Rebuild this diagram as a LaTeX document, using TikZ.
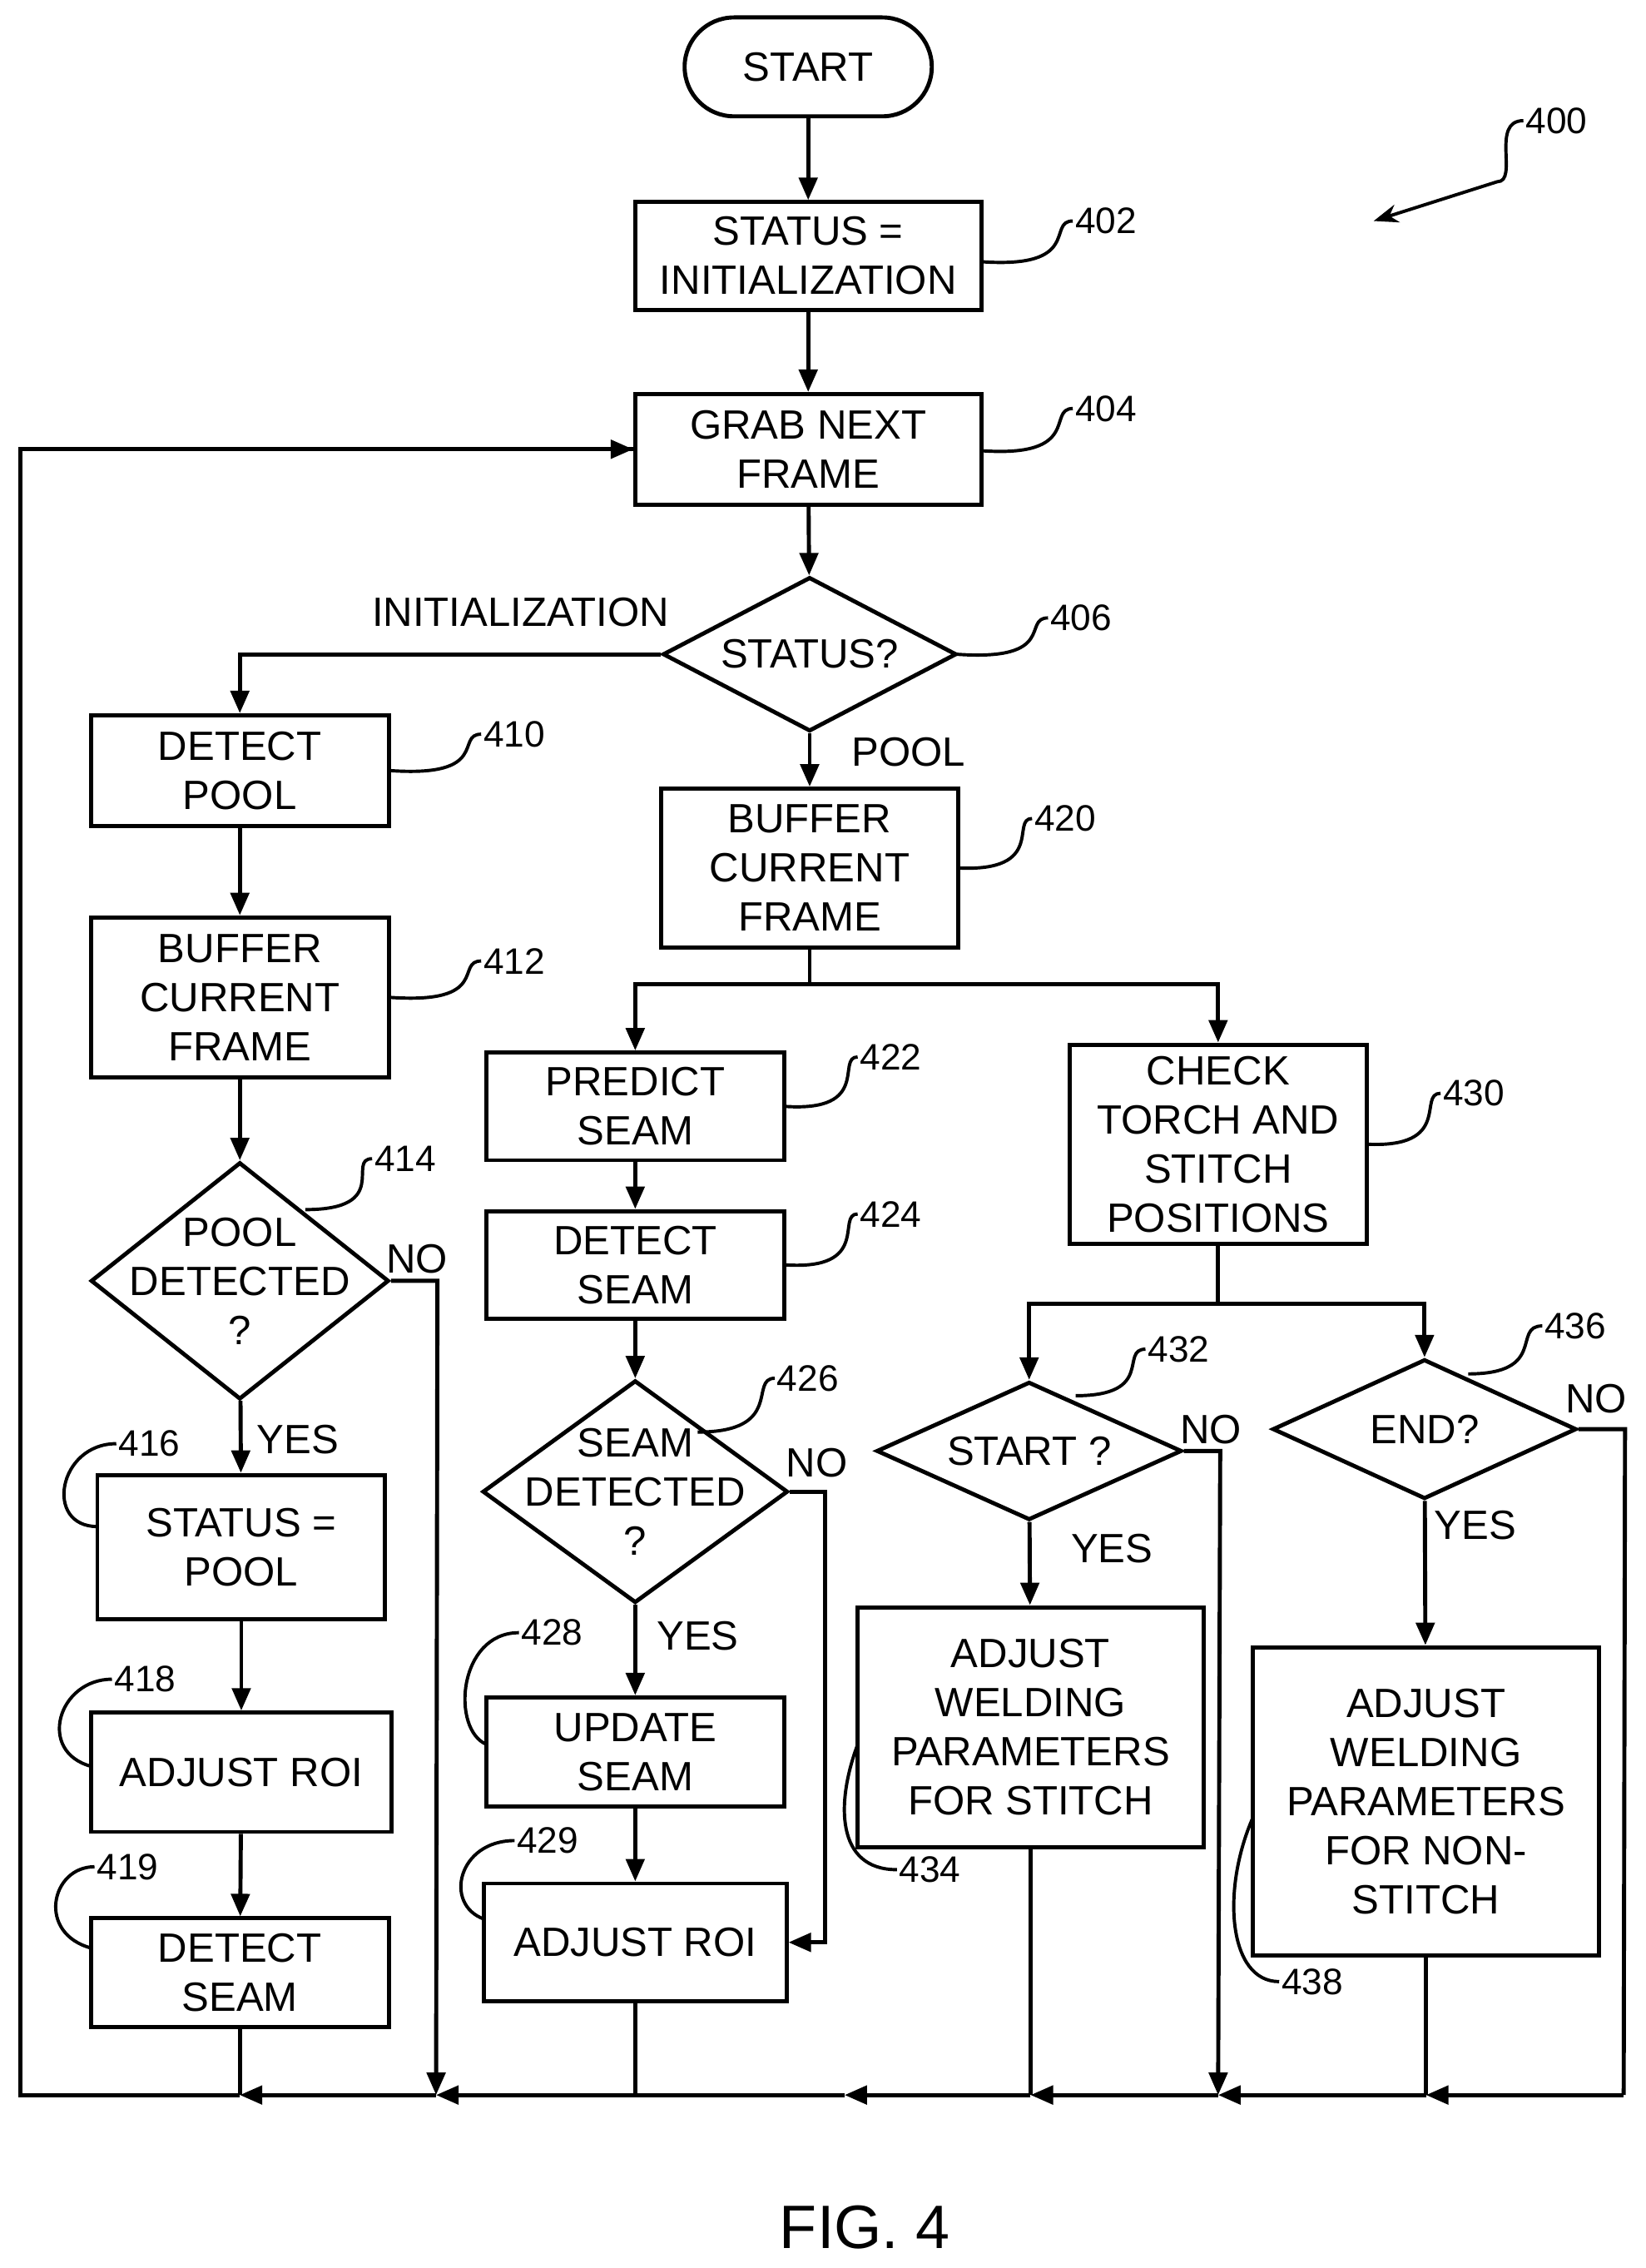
\documentclass[tikz,border=0pt]{standalone}
\usepackage{fontspec}
\setmainfont{Liberation Sans}
\usetikzlibrary{shapes.geometric,arrows.meta}
\tikzset{
  box/.style={draw, line width=2pt, align=center, inner sep=0pt, font=\fontsize{20}{24}\selectfont},
  dia/.style={draw, diamond, line width=2pt, inner sep=0pt},
  flow/.style={line width=2pt, -{Triangle[length=11pt,width=9pt]}},
  line/.style={line width=2pt},
  lead/.style={line width=1.6pt},
  num/.style={font=\fontsize{18}{20}\selectfont, anchor=west, inner sep=1pt},
  lbl/.style={font=\fontsize{20}{24}\selectfont, align=center}
}
\begin{document}
\begin{tikzpicture}[x=0.025cm, y=0.025cm]
\useasboundingbox (0,0) rectangle (1132,-1560);

% boxes
\node[box, rounded corners=0.85cm, minimum width=4.25cm, minimum height=1.7cm] (start) at (556,-46) {START};
\node[box, minimum width=5.95cm, minimum height=1.85cm] (s402) at (556,-176) {STATUS =\\INITIALIZATION};
\node[box, minimum width=5.95cm, minimum height=1.9cm] (s404) at (556,-309) {GRAB NEXT\\FRAME};
\node[dia, minimum width=5.05cm, minimum height=2.65cm] (d406) at (557,-450) {};
\node[lbl] (t406) at (d406) {STATUS?};
\node[box, minimum width=5.125cm, minimum height=1.9cm] (b410) at (165,-530) {DETECT\\POOL};
\node[box, minimum width=5.125cm, minimum height=2.75cm] (b412) at (165,-686) {BUFFER\\CURRENT\\FRAME};
\node[dia, minimum width=5.125cm, minimum height=4.075cm] (d414) at (165,-881) {};
\node[lbl] (t414) at (d414) {POOL\\DETECTED\\?};
\node[box, minimum width=4.95cm, minimum height=2.475cm] (b416) at (166,-1064) {STATUS =\\POOL};
\node[box, minimum width=5.175cm, minimum height=2.05cm] (b418) at (166,-1219) {ADJUST ROI};
\node[box, minimum width=5.125cm, minimum height=1.875cm] (b419) at (165,-1357) {DETECT\\SEAM};
\node[box, minimum width=5.1cm, minimum height=2.725cm] (b420) at (557,-597) {BUFFER\\CURRENT\\FRAME};
\node[box, minimum width=5.125cm, minimum height=1.85cm] (b422) at (437,-761) {PREDICT\\SEAM};
\node[box, minimum width=5.125cm, minimum height=1.85cm] (b424) at (437,-870) {DETECT\\SEAM};
\node[dia, minimum width=5.25cm, minimum height=3.825cm] (d426) at (437,-1026) {};
\node[lbl] (t426) at (d426) {SEAM\\DETECTED\\?};
\node[box, minimum width=5.125cm, minimum height=1.875cm] (b428) at (437,-1205) {UPDATE\\SEAM};
\node[box, minimum width=5.2cm, minimum height=2.025cm] (b429) at (437,-1336) {ADJUST ROI};
\node[box, minimum width=5.1cm, minimum height=3.425cm] (b430) at (838,-787) {CHECK\\TORCH AND\\STITCH\\POSITIONS};
\node[dia, minimum width=5.25cm, minimum height=2.375cm] (d432) at (708,-998) {};
\node[lbl] (t432) at (d432) {START ?};
\node[box, minimum width=5.95cm, minimum height=4.125cm] (b434) at (709,-1188) {ADJUST\\WELDING\\PARAMETERS\\FOR STITCH};
\node[dia, minimum width=5.225cm, minimum height=2.4cm] (d436) at (980,-983) {};
\node[lbl] (t436) at (d436) {END?};
\node[box, minimum width=5.95cm, minimum height=5.3cm] (b438) at (981,-1239) {ADJUST\\WELDING\\PARAMETERS\\FOR NON-\\STITCH};

% junction points
\coordinate (bl) at (14,-1441);
\coordinate (br) at (1117,-1441);
\coordinate (j420) at (557,-677);
\coordinate (j430) at (838,-897);

% main flow
\draw[flow] (start) -- (s402);
\draw[flow] (s402) -- (s404);
\draw[flow] (s404) -- (d406);
\draw[flow] (d406.west) -| (b410.north);
\draw[flow] (d406) -- (b420);
\draw[flow] (b410) -- (b412);
\draw[flow] (b412) -- (d414);
\draw[flow] (d414) -- (b416);
\draw[flow] (b416) -- (b418);
\draw[flow] (b418) -- (b419);
\draw[line] (b420) -- (j420);
\draw[flow] (j420) -| (b422.north);
\draw[flow] (j420) -| (b430.north);
\draw[flow] (b422) -- (b424);
\draw[flow] (b424) -- (d426);
\draw[flow] (d426) -- (b428);
\draw[flow] (b428) -- (b429);
\draw[flow] (d426.east) -- ++(24,0) |- (b429.east);
\draw[line] (b430) -- (j430);
\draw[flow] (j430) -| (d432.north);
\draw[flow] (j430) -| (d436.north);
\draw[flow] (d432) -- (b434);
\draw[flow] (d436) -- (b438);

% return paths
\draw[flow] (d414.east) -- ++(32,0) -- (300,-1441);
\draw[flow] (d432.east) -- ++(25,0) -- (838,-1441);
\draw[line] (d436.east) -- ++(32,0) -- (br);
\draw[line] (b419) -- (165,-1441);
\draw[line] (b429) -- (437,-1441);
\draw[line] (b434) -- (709,-1441);
\draw[line] (b438) -- (981,-1441);
\draw[flow] (br) -- (981,-1441);
\draw[flow] (981,-1441) -- (838,-1441);
\draw[flow] (838,-1441) -- (709,-1441);
\draw[flow] (709,-1441) -- (581,-1441);
\draw[line] (581,-1441) -- (437,-1441);
\draw[flow] (437,-1441) -- (300,-1441);
\draw[flow] (300,-1441) -- (165,-1441);
\draw[line] (165,-1441) -- (bl) |- (s404.west);
\draw[flow] (14,-309) -- (s404.west);

% branch labels
\node[lbl] at (358,-421) {INITIALIZATION};
\node[lbl] at (625,-517) {POOL};
\node[lbl] at (287,-866) {NO};
\node[lbl] at (205,-990) {YES};
\node[lbl] at (562,-1006) {NO};
\node[lbl] at (480,-1125) {YES};
\node[lbl] at (833,-983) {NO};
\node[lbl] at (765,-1065) {YES};
\node[lbl] at (1098,-962) {NO};
\node[lbl] at (1015,-1049) {YES};

% reference numerals
\node[num] (n400) at (1048,-83) {400};
\draw[lead, -{Stealth[length=12pt]}] (n400.west) .. controls (1025,-83) and (1045,-125) .. (1030,-125) -- (945,-152);
\node[num] (n402) at (738,-152) {402};
\draw[lead] (675,-180) .. controls (745,-185) and (720,-152) .. (n402.west);
\node[num] (n404) at (738,-281) {404};
\draw[lead] (675,-310) .. controls (745,-315) and (720,-281) .. (n404.west);
\node[num] (n406) at (721,-425) {406};
\draw[lead] (658,-450) .. controls (728,-455) and (703,-425) .. (n406.west);
\node[num] (n410) at (331,-505) {410};
\draw[lead] (268,-530) .. controls (338,-535) and (313,-505) .. (n410.west);
\node[num] (n412) at (331,-661) {412};
\draw[lead] (268,-686) .. controls (338,-691) and (313,-661) .. (n412.west);
\node[num] (n414) at (256,-797) {414};
\draw[lead] (210,-832) .. controls (270,-832) and (238,-797) .. (n414.west);
\node[num] (n416) at (80,-993) {416};
\draw[lead] (67,-1050) .. controls (30,-1050) and (40,-993) .. (n416.west);
\node[num] (n418) at (77,-1155) {418};
\draw[lead] (63,-1215) .. controls (25,-1205) and (40,-1155) .. (n418.west);
\node[num] (n419) at (65,-1284) {419};
\draw[lead] (63,-1340) .. controls (25,-1330) and (35,-1284) .. (n419.west);
\node[num] (n420) at (710,-563) {420};
\draw[lead] (659,-597) .. controls (720,-600) and (695,-563) .. (n420.west);
\node[num] (n422) at (590,-727) {422};
\draw[lead] (540,-761) .. controls (600,-765) and (575,-727) .. (n422.west);
\node[num] (n424) at (590,-835) {424};
\draw[lead] (540,-870) .. controls (600,-874) and (575,-835) .. (n424.west);
\node[num] (n426) at (533,-948) {426};
\draw[lead] (480,-985) .. controls (540,-985) and (515,-948) .. (n426.west);
\node[num] (n428) at (357,-1123) {428};
\draw[lead] (335,-1200) .. controls (310,-1190) and (315,-1123) .. (n428.west);
\node[num] (n429) at (354,-1266) {429};
\draw[lead] (333,-1320) .. controls (305,-1310) and (315,-1266) .. (n429.west);
\node[num] (n430) at (991,-752) {430};
\draw[lead] (940,-787) .. controls (1000,-790) and (975,-752) .. (n430.west);
\node[num] (n432) at (788,-928) {432};
\draw[lead] (740,-960) .. controls (795,-960) and (770,-928) .. (n432.west);
\node[num] (n434) at (617,-1286) {434};
\draw[lead] (590,-1200) .. controls (575,-1240) and (575,-1286) .. (n434.west);
\node[num] (n436) at (1061,-912) {436};
\draw[lead] (1010,-945) .. controls (1065,-945) and (1040,-912) .. (n436.west);
\node[num] (n438) at (880,-1363) {438};
\draw[lead] (862,-1250) .. controls (840,-1300) and (845,-1363) .. (n438.west);

\node[font=\fontsize{30}{34}\selectfont] (fig) at (595,-1532) {FIG. 4};
\end{tikzpicture}
\end{document}
